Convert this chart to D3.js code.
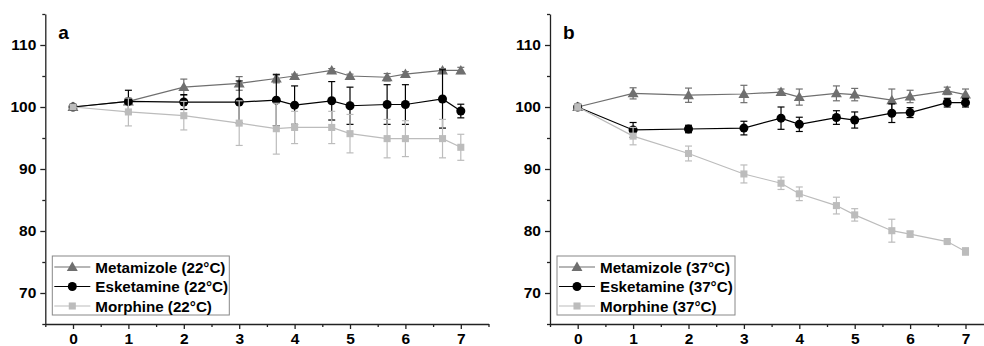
<!DOCTYPE html>
<html>
<head>
<meta charset="utf-8">
<script src="https://cdn.jsdelivr.net/npm/d3@7"></script>
<style>
  body { margin: 0; background: #fff; }
  svg { display: block; font-family: "Liberation Sans", Arial, sans-serif; }
  .axis text { font-size: 15.5px; font-weight: bold; fill: #000; }
  .axis path, .axis line { stroke: #222; stroke-width: 1.3; }
</style>
</head>
<body>
<div id="chart"></div>
<script>
// Sampling times (x axis)
const times = [0, 1, 2, 3, 3.67, 4, 4.67, 5, 5.67, 6, 6.67, 7];
const xTicks = [0, 1, 2, 3, 4, 5, 6, 7];
const yTicks = [70, 80, 90, 100, 110];

// Panel a: 22°C
const metamizole22 = [100, 100.9, 103.2, 103.8, 104.6, 105.0, 105.9, 105.0, 104.8, 105.3, 105.9, 105.9];
const metamizole22Err = [0.4, 0.5, 1.3, 1.1, 0.7, 0.3, 0.3, 0.3, 0.6, 0.4, 0.3, 0.5];
const esketamine22 = [100, 100.9, 100.8, 100.8, 101.1, 100.3, 101.0, 100.2, 100.4, 100.4, 101.3, 99.35];
const esketamine22Err = [0.3, 1.8, 1.2, 3.4, 4.1, 3.1, 3.1, 3.0, 3.2, 3.2, 4.7, 1.1];
const morphine22 = [100, 99.2, 98.6, 97.4, 96.5, 96.7, 96.7, 95.7, 94.9, 94.9, 94.9, 93.5];
const morphine22Err = [0.3, 2.25, 2.3, 3.6, 4.1, 2.6, 2.6, 3.1, 3.1, 2.9, 3.1, 2.1];

// Panel b: 37°C
const metamizole37 = [100, 102.2, 101.9, 102.1, 102.4, 101.6, 102.2, 102.0, 101.1, 101.7, 102.6, 102.0];
const metamizole37Err = [0.5, 0.9, 1.15, 1.4, 0.5, 1.3, 1.2, 1.0, 1.8, 1.0, 0.6, 0.9];
const esketamine37 = [100, 96.3, 96.45, 96.6, 98.2, 97.2, 98.3, 97.9, 99.0, 99.1, 100.7, 100.7];
const esketamine37Err = [0.3, 1.2, 0.6, 1.1, 1.8, 1.15, 1.1, 1.3, 1.5, 0.8, 0.7, 0.7];
const morphine37 = [100, 95.3, 92.5, 89.2, 87.7, 86.0, 84.1, 82.6, 80.05, 79.5, 78.3, 76.7];
const morphine37Err = [0.5, 1.4, 1.2, 1.45, 1.0, 1.1, 1.35, 1.0, 1.85, 0.5, 0.2, 0.6];

const seriesNames = ["Metamizole", "Esketamine", "Morphine"];
const colors = ["#6f6f6f", "#000000", "#bcbcbc"];
const shapes = [d3.symbolTriangle, d3.symbolCircle, d3.symbolSquare];
const sizes = [52, 64, 50];

const width = 984, height = 346;

const svg = d3.select("#chart").append("svg")
  .attr("width", width)
  .attr("height", height);

function drawPanel(opts) {
  const x = d3.scaleLinear().domain([-0.5, 7.5]).range([opts.left, opts.left + 443.2]);
  const y = d3.scaleLinear().domain([65, 115]).range([324, 14]);
  const g = svg.append("g");

  // minor ticks
  const yMinor = d3.range(65, 116, 5).filter(v => v % 10 !== 0);
  const xMinor = d3.range(-0.5, 7.6, 1);

  g.append("g").attr("class", "axis")
    .attr("transform", `translate(${opts.left},0)`)
    .call(d3.axisLeft(y).tickValues(yMinor).tickSize(3).tickSizeOuter(0).tickFormat(""));
  g.append("g").attr("class", "axis")
    .attr("transform", `translate(${opts.left},0)`)
    .call(d3.axisLeft(y).tickValues(yTicks).tickSize(5).tickSizeOuter(0).tickPadding(4))
    .select(".domain").remove();

  g.append("g").attr("class", "axis")
    .attr("transform", "translate(0,324)")
    .call(d3.axisBottom(x).tickValues(xMinor).tickSize(3).tickSizeOuter(0).tickFormat(""));
  g.append("g").attr("class", "axis")
    .attr("transform", "translate(0,324)")
    .call(d3.axisBottom(x).tickValues(xTicks).tickSize(5).tickSizeOuter(0).tickPadding(4))
    .select(".domain").remove();

  // panel letter
  g.append("text")
    .attr("x", opts.left + 13)
    .attr("y", 39)
    .attr("font-size", 19)
    .attr("font-weight", "bold")
    .text(opts.letter);

  const line = d3.line().x((d, i) => x(times[i])).y(d => y(d));

  opts.series.forEach((s, k) => {
    const sg = g.append("g");
    // error bars
    const eb = sg.selectAll(".err").data(s.values).enter().append("g");
    eb.append("line")
      .attr("x1", (d, i) => x(times[i])).attr("x2", (d, i) => x(times[i]))
      .attr("y1", (d, i) => y(d - s.err[i])).attr("y2", (d, i) => y(d + s.err[i]))
      .attr("stroke", colors[k]).attr("stroke-width", 1.2);
    [-1, 1].forEach(sign => {
      eb.append("line")
        .attr("x1", (d, i) => x(times[i]) - 3.5).attr("x2", (d, i) => x(times[i]) + 3.5)
        .attr("y1", (d, i) => y(d + sign * s.err[i])).attr("y2", (d, i) => y(d + sign * s.err[i]))
        .attr("stroke", colors[k]).attr("stroke-width", 1.2);
    });
    sg.append("path")
      .datum(s.values)
      .attr("d", line)
      .attr("fill", "none")
      .attr("stroke", colors[k])
      .attr("stroke-width", 1.2);
    sg.selectAll(".pt").data(s.values).enter().append("path")
      .attr("d", d3.symbol().type(shapes[k]).size(sizes[k]))
      .attr("transform", (d, i) => `translate(${x(times[i])},${y(d) + (k === 0 ? 0.8 : 0)})`)
      .attr("fill", colors[k]);
  });

  // legend
  const lg = g.append("g").attr("transform", `translate(${opts.left + 7},256)`);
  lg.append("rect")
    .attr("width", opts.legendW).attr("height", 59)
    .attr("fill", "#fff").attr("stroke", "#888").attr("stroke-width", 1);
  seriesNames.forEach((name, k) => {
    const cy = 11 + k * 19.5;
    lg.append("line")
      .attr("x1", 2).attr("x2", 38).attr("y1", cy).attr("y2", cy)
      .attr("stroke", colors[k]).attr("stroke-width", 1.2);
    lg.append("path")
      .attr("d", d3.symbol().type(shapes[k]).size(sizes[k]))
      .attr("transform", `translate(20,${cy + (k === 0 ? 0.8 : 0)})`)
      .attr("fill", colors[k]);
    lg.append("text")
      .attr("x", 43).attr("y", cy + 5.5)
      .attr("font-size", 15.2).attr("font-weight", "bold")
      .text(`${name} (${opts.temp})`);
  });
}

drawPanel({
  left: 45.3, letter: "a", temp: "22°C", legendW: 177,
  series: [
    { values: metamizole22, err: metamizole22Err },
    { values: esketamine22, err: esketamine22Err },
    { values: morphine22, err: morphine22Err }
  ]
});

drawPanel({
  left: 550, letter: "b", temp: "37°C", legendW: 178,
  series: [
    { values: metamizole37, err: metamizole37Err },
    { values: esketamine37, err: esketamine37Err },
    { values: morphine37, err: morphine37Err }
  ]
});
</script>
</body>
</html>
